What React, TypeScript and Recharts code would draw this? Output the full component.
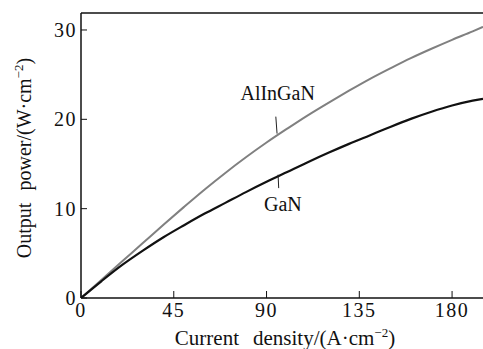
import {
  LineChart,
  Line,
  XAxis,
  YAxis,
  ReferenceLine,
  ReferenceDot,
  Label,
} from "recharts";

const current = [0, 10, 20, 30, 40, 50, 60, 70, 80, 90, 100, 110, 120, 130, 140, 150, 160, 170, 180, 190, 195];
const allingan = [0, 2.05, 4.1, 6.15, 8.2, 10.2, 12.15, 14.0, 15.75, 17.4, 18.95, 20.45, 21.85, 23.2, 24.5, 25.7, 26.85, 27.9, 28.9, 29.85, 30.35];
const gan = [0, 1.9, 3.7, 5.3, 6.8, 8.15, 9.45, 10.65, 11.85, 13.0, 14.1, 15.2, 16.25, 17.25, 18.2, 19.15, 20.05, 20.85, 21.55, 22.1, 22.3];

const xTicks = [0, 45, 90, 135, 180];
const yTicks = [0, 10, 20, 30];

const data = current.map((c, i) => ({ c, allingan: allingan[i], gan: gan[i] }));

const font = "Liberation Serif";

const XTitle = () => (
  <text x={285} y={345} textAnchor="middle" fontFamily={font} fontSize={21} fill="#111">
    <tspan>Current</tspan>
    <tspan dx={14}>density/(A·cm</tspan>
    <tspan dy={-8} fontSize={13}>−2</tspan>
    <tspan dy={8}>)</tspan>
  </text>
);

const YTitle = () => (
  <text
    x={0}
    y={0}
    transform="translate(31,158) rotate(-90)"
    textAnchor="middle"
    fontFamily={font}
    fontSize={20}
    fill="#111"
  >
    <tspan>Output</tspan>
    <tspan dx={12}>power/(W·cm</tspan>
    <tspan dy={-8} fontSize={13}>−2</tspan>
    <tspan dy={8}>)</tspan>
  </text>
);

const tickStyle = { fill: "#111", fontSize: 20, fontFamily: font, letterSpacing: 1.5 };

export default function App() {
  return (
    <div style={{ position: "fixed", left: 0, top: 0, width: 483, height: 349, background: "#fff" }}>
      <LineChart width={483} height={349} data={data} margin={{ top: 13, right: 0, bottom: 0, left: 0 }}>
        <XAxis
          dataKey="c"
          type="number"
          domain={[0, 195]}
          ticks={xTicks}
          allowDataOverflow
          height={51}
          tickSize={-7}
          tickMargin={12}
          axisLine={{ stroke: "#111", strokeWidth: 1.5 }}
          tickLine={{ stroke: "#111", strokeWidth: 1 }}
          tick={tickStyle}
        >
          <Label content={<XTitle />} />
        </XAxis>
        <YAxis
          type="number"
          domain={[0, 31.9]}
          ticks={yTicks}
          allowDataOverflow
          width={81}
          tickSize={-6}
          tickMargin={10}
          axisLine={{ stroke: "#111", strokeWidth: 1.5 }}
          tickLine={{ stroke: "#111", strokeWidth: 1 }}
          tick={tickStyle}
        >
          <Label content={<YTitle />} />
        </YAxis>
        <ReferenceLine y={31.9} stroke="#111" strokeWidth={1.5} />
        <Line
          type="monotone"
          dataKey="allingan"
          stroke="#808080"
          strokeWidth={2}
          dot={false}
          isAnimationActive={false}
        />
        <Line
          type="monotone"
          dataKey="gan"
          stroke="#111"
          strokeWidth={2.2}
          dot={false}
          isAnimationActive={false}
        />
        <ReferenceLine segment={[{ x: 94.5, y: 20.3 }, { x: 95.1, y: 18.4 }]} stroke="#222" strokeWidth={1} />
        <ReferenceLine segment={[{ x: 95.6, y: 13.8 }, { x: 95.9, y: 12.3 }]} stroke="#222" strokeWidth={1} />
        <ReferenceDot x={95.4} y={23.0} r={0} stroke="none">
          <Label value="AlInGaN" position="center" fontSize={20} fill="#111" fontFamily={font} />
        </ReferenceDot>
        <ReferenceDot x={97.9} y={10.55} r={0} stroke="none">
          <Label value="GaN" position="center" fontSize={20} fill="#111" fontFamily={font} />
        </ReferenceDot>
      </LineChart>
    </div>
  );
}
